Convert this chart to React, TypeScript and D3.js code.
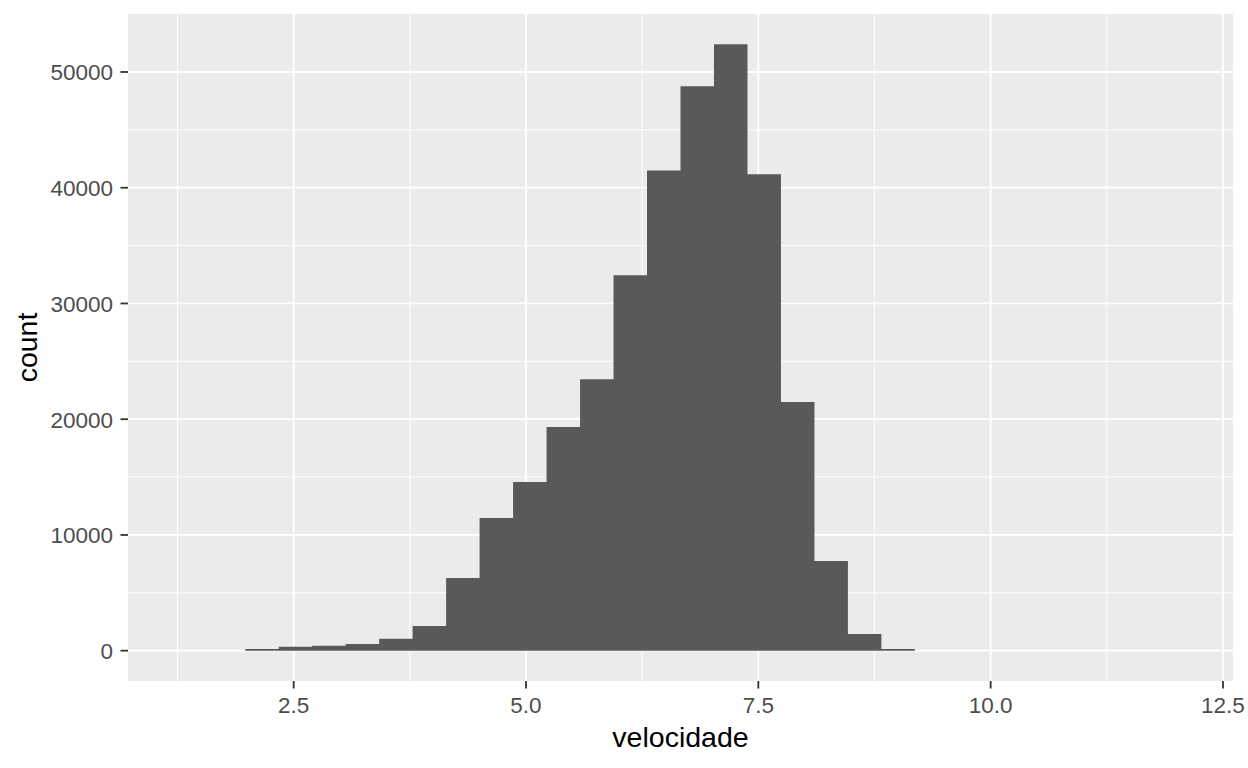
import React, { useEffect, useRef } from 'react';
import * as d3 from 'd3';

// histogram of velocidade, 30 bins
const binStart = 1.2575;
const binWidth = 0.36033;
const counts = [
  0, 0, 150, 345, 430, 580, 1040, 2130, 6280, 11460, 14570, 19320, 23460, 32440, 41490,
  48760, 52390, 41160, 21480, 7750, 1440, 150, 0, 0, 0, 0, 0, 0, 0, 0,
];
const xTicks = [2.5, 5.0, 7.5, 10.0, 12.5];
const xMinor = [1.25, 3.75, 6.25, 8.75, 11.25];
const yTicks = [0, 10000, 20000, 30000, 40000, 50000];
const yMinor = [5000, 15000, 25000, 35000, 45000];

const W = 1248;
const H = 768;

const Histogram: React.FC = () => {
  const svgRef = useRef<SVGSVGElement | null>(null);

  useEffect(() => {
    const svg = d3.select(svgRef.current);
    svg.selectAll('*').remove();

    const panel = { left: 128, right: 1233, top: 14, bottom: 681 };
    const font = 'Liberation Sans, Arial, sans-serif';

    const bins = counts.map((c, i) => ({
      x0: binStart + i * binWidth,
      x1: binStart + (i + 1) * binWidth,
      count: c,
    }));

    const xLo = binStart;
    const xHi = binStart + counts.length * binWidth;
    const xPad = (xHi - xLo) * 0.05;
    const x = d3
      .scaleLinear()
      .domain([xLo - xPad, xHi + xPad])
      .range([panel.left, panel.right]);

    const yMax = d3.max(counts)!;
    const y = d3
      .scaleLinear()
      .domain([-yMax * 0.05, yMax * 1.05])
      .range([panel.bottom, panel.top]);

    svg
      .append('rect')
      .attr('x', panel.left)
      .attr('y', panel.top)
      .attr('width', panel.right - panel.left)
      .attr('height', panel.bottom - panel.top)
      .attr('fill', '#EBEBEB');

    const grid = svg.append('g').attr('stroke', '#FFFFFF');
    grid
      .selectAll('line.ymin')
      .data(yMinor)
      .enter()
      .append('line')
      .attr('x1', panel.left)
      .attr('x2', panel.right)
      .attr('y1', d => y(d))
      .attr('y2', d => y(d))
      .attr('stroke-width', 0.9);
    grid
      .selectAll('line.xmin')
      .data(xMinor)
      .enter()
      .append('line')
      .attr('y1', panel.top)
      .attr('y2', panel.bottom)
      .attr('x1', d => x(d))
      .attr('x2', d => x(d))
      .attr('stroke-width', 0.9);
    grid
      .selectAll('line.ymaj')
      .data(yTicks)
      .enter()
      .append('line')
      .attr('x1', panel.left)
      .attr('x2', panel.right)
      .attr('y1', d => y(d))
      .attr('y2', d => y(d))
      .attr('stroke-width', 1.8);
    grid
      .selectAll('line.xmaj')
      .data(xTicks)
      .enter()
      .append('line')
      .attr('y1', panel.top)
      .attr('y2', panel.bottom)
      .attr('x1', d => x(d))
      .attr('x2', d => x(d))
      .attr('stroke-width', 1.8);

    // all bars in one path so neighbouring bins leave no antialias seam
    const p = d3.path();
    bins
      .filter(b => b.count > 0)
      .forEach(b => {
        p.rect(x(b.x0), y(b.count), x(b.x1) - x(b.x0), y(0) - y(b.count));
      });
    svg.append('path').attr('d', p.toString()).attr('fill', '#595959');

    // x axis
    const xAxis = svg.append('g');
    xAxis
      .selectAll('line')
      .data(xTicks)
      .enter()
      .append('line')
      .attr('x1', d => x(d))
      .attr('x2', d => x(d))
      .attr('y1', panel.bottom)
      .attr('y2', panel.bottom + 7.5)
      .attr('stroke', '#333333')
      .attr('stroke-width', 1.8);
    xAxis
      .selectAll('text')
      .data(xTicks)
      .enter()
      .append('text')
      .attr('x', d => x(d))
      .attr('y', 713)
      .attr('text-anchor', 'middle')
      .attr('font-family', font)
      .attr('font-size', 22.5)
      .attr('fill', '#4D4D4D')
      .text(d => d.toFixed(1));

    // y axis
    const yAxis = svg.append('g');
    yAxis
      .selectAll('line')
      .data(yTicks)
      .enter()
      .append('line')
      .attr('x1', panel.left - 7.5)
      .attr('x2', panel.left)
      .attr('y1', d => y(d))
      .attr('y2', d => y(d))
      .attr('stroke', '#333333')
      .attr('stroke-width', 1.8);
    yAxis
      .selectAll('text')
      .data(yTicks)
      .enter()
      .append('text')
      .attr('x', 113)
      .attr('y', d => y(d) + 8.5)
      .attr('text-anchor', 'end')
      .attr('font-family', font)
      .attr('font-size', 22.5)
      .attr('fill', '#4D4D4D')
      .text(d => String(d));

    svg
      .append('text')
      .attr('x', (panel.left + panel.right) / 2)
      .attr('y', 747)
      .attr('text-anchor', 'middle')
      .attr('font-family', font)
      .attr('font-size', 28.5)
      .attr('fill', '#000000')
      .text('velocidade');

    svg
      .append('text')
      .attr('transform', `translate(37,${(panel.top + panel.bottom) / 2}) rotate(-90)`)
      .attr('text-anchor', 'middle')
      .attr('font-family', font)
      .attr('font-size', 28.5)
      .attr('fill', '#000000')
      .text('count');
  }, []);

  return (
    <svg
      ref={svgRef}
      width={W}
      height={H}
      style={{ position: 'absolute', left: 0, top: 0, background: '#FFFFFF' }}
    ></svg>
  );
};

export default function App() {
  return <Histogram />;
}
